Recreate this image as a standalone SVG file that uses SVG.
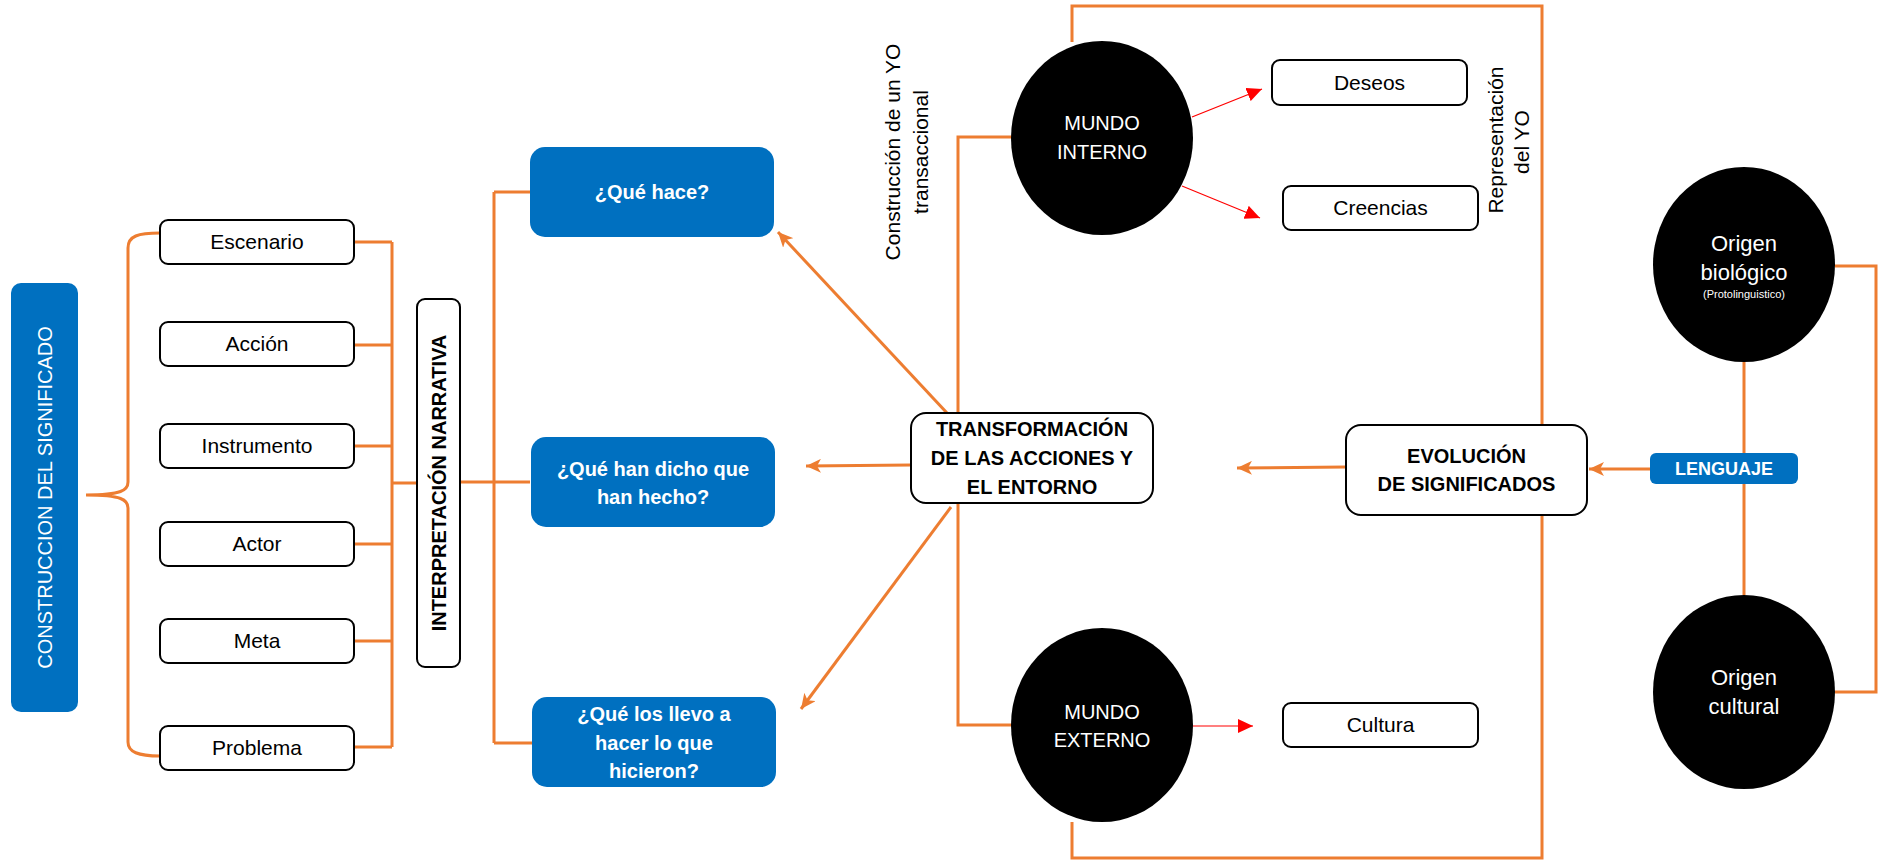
<svg xmlns="http://www.w3.org/2000/svg" width="1889" height="860" viewBox="0 0 1889 860">
<style>
text{font-family:"Liberation Sans",Arial,sans-serif;}
.box{fill:#fff;stroke:#000;stroke-width:2;}
.blue{fill:#0070C0;}
.dot{fill:#000;}
.t{font-size:21px;fill:#000;text-anchor:middle;}
.tb{font-size:20px;font-weight:bold;fill:#000;text-anchor:middle;}
.wb{font-size:20px;font-weight:bold;fill:#fff;text-anchor:middle;}
.w{font-size:20px;fill:#fff;text-anchor:middle;}
.or{fill:none;stroke:#ED7D31;stroke-width:3;}
.rd{fill:none;stroke:#FF0000;stroke-width:1.2;}
</style>
<defs>
<marker id="ao" markerUnits="userSpaceOnUse" markerWidth="16" markerHeight="14" refX="15" refY="7" orient="auto">
<path d="M0,0 L15,7 L0,14 L4,7 Z" fill="#ED7D31"/>
</marker>
<marker id="ar" markerUnits="userSpaceOnUse" markerWidth="16" markerHeight="14" refX="15" refY="7" orient="auto">
<path d="M0,0 L15,7 L0,14 Z" fill="#FF0000"/>
</marker>
</defs>
<rect width="1889" height="860" fill="#fff"/>

<g id="connectors">
<path class="or" d="M160,233 C138,233 128,236 128,248 L128,482 C128,490 122,495 86,495 C122,495 128,500 128,508 L128,742 C128,752 138,756 160,756"/>
<path class="or" d="M354,242 H392 M354,345 H392 M354,446 H392 M354,544 H392 M354,641 H392 M354,747 H392 M392,242 V747 M392,483 H417"/>
<path class="or" d="M460,482 H530 M494,192 V743 M494,192 H530 M494,743 H532"/>
<path class="or" d="M947,413 L778,232" marker-end="url(#ao)"/>
<path class="or" d="M911,465 L806,466" marker-end="url(#ao)"/>
<path class="or" d="M951,507 L801,709" marker-end="url(#ao)"/>
<path class="or" d="M1012,137 H958 V725 H1012"/>
<path class="or" d="M1072,42 V6 H1542 V858 H1072 V822"/>
<path class="or" d="M1346,467 L1237,468" marker-end="url(#ao)"/>
<path class="or" d="M1650,469 L1589,469" marker-end="url(#ao)"/>
<path class="or" d="M1744,362 V595"/>
<path class="or" d="M1835,266 H1876 V692 H1835"/>
<path class="rd" d="M1192,117 L1262,89" marker-end="url(#ar)"/>
<path class="rd" d="M1182,186 L1260,218" marker-end="url(#ar)"/>
<path class="rd" d="M1193,726 L1253,726" marker-end="url(#ar)"/>
</g>

<g id="construccion">
<rect class="blue" x="11" y="283" width="67" height="429" rx="10"/>
<text class="w" transform="rotate(-90 45 497.5)" x="45" y="497.5" dominant-baseline="central">CONSTRUCCION DEL SIGNIFICADO</text>
</g>

<g id="escenario"><rect class="box" x="160" y="220" width="194" height="44" rx="8"/><text class="t" x="257" y="249">Escenario</text></g>
<g id="accion"><rect class="box" x="160" y="322" width="194" height="44" rx="8"/><text class="t" x="257" y="351">Acción</text></g>
<g id="instrumento"><rect class="box" x="160" y="424" width="194" height="44" rx="8"/><text class="t" x="257" y="453">Instrumento</text></g>
<g id="actor"><rect class="box" x="160" y="522" width="194" height="44" rx="8"/><text class="t" x="257" y="551">Actor</text></g>
<g id="meta"><rect class="box" x="160" y="619" width="194" height="44" rx="8"/><text class="t" x="257" y="648">Meta</text></g>
<g id="problema"><rect class="box" x="160" y="726" width="194" height="44" rx="8"/><text class="t" x="257" y="755">Problema</text></g>

<g id="interpretacion">
<rect class="box" x="417" y="299" width="43" height="368" rx="8"/>
<text class="tb" transform="rotate(-90 438.5 483)" x="438.5" y="483" dominant-baseline="central">INTERPRETACIÓN NARRATIVA</text>
</g>

<g id="que-hace"><rect class="blue" x="530" y="147" width="244" height="90" rx="15"/><text class="wb" x="652" y="199">¿Qué hace?</text></g>
<g id="que-han-dicho"><rect class="blue" x="531" y="437" width="244" height="90" rx="15"/><text class="wb" x="653" y="476">¿Qué han dicho que</text><text class="wb" x="653" y="504">han hecho?</text></g>
<g id="que-los-llevo"><rect class="blue" x="532" y="697" width="244" height="90" rx="15"/><text class="wb" x="654" y="721">¿Qué los llevo a</text><text class="wb" x="654" y="750">hacer lo que</text><text class="wb" x="654" y="778">hicieron?</text></g>

<g id="transformacion">
<rect class="box" x="911" y="413" width="242" height="90" rx="15"/>
<text class="tb" x="1032" y="436">TRANSFORMACIÓN</text>
<text class="tb" x="1032" y="465">DE LAS ACCIONES Y</text>
<text class="tb" x="1032" y="494">EL ENTORNO</text>
</g>

<g id="label-transaccional">
<text class="t" transform="rotate(-90 892 152)" x="892" y="152" dominant-baseline="central">Construcción de un YO</text>
<text class="t" transform="rotate(-90 920 152)" x="920" y="152" dominant-baseline="central">transaccional</text>
</g>

<g id="mundo-interno">
<ellipse class="dot" cx="1102" cy="138" rx="91" ry="97"/>
<text class="w" x="1102" y="130">MUNDO</text>
<text class="w" x="1102" y="159">INTERNO</text>
</g>
<g id="deseos"><rect class="box" x="1272" y="60" width="195" height="45" rx="8"/><text class="t" x="1369.5" y="90">Deseos</text></g>
<g id="creencias"><rect class="box" x="1283" y="186" width="195" height="44" rx="8"/><text class="t" x="1380.5" y="215">Creencias</text></g>

<g id="label-representacion">
<text class="t" transform="rotate(-90 1495 140)" x="1495" y="140" dominant-baseline="central">Representación</text>
<text class="t" transform="rotate(-90 1521 142)" x="1521" y="142" dominant-baseline="central">del YO</text>
</g>

<g id="mundo-externo">
<ellipse class="dot" cx="1102" cy="725" rx="91" ry="97"/>
<text class="w" x="1102" y="719">MUNDO</text>
<text class="w" x="1102" y="747">EXTERNO</text>
</g>
<g id="cultura"><rect class="box" x="1283" y="703" width="195" height="44" rx="8"/><text class="t" x="1380.5" y="732">Cultura</text></g>

<g id="evolucion">
<rect class="box" x="1346" y="425" width="241" height="90" rx="15"/>
<text class="tb" x="1466.5" y="463">EVOLUCIÓN</text>
<text class="tb" x="1466.5" y="491">DE SIGNIFICADOS</text>
</g>

<g id="lenguaje">
<rect class="blue" x="1650" y="453" width="148" height="31" rx="6"/>
<text class="wb" x="1724" y="475" style="font-size:18px">LENGUAJE</text>
</g>

<g id="origen-biologico">
<ellipse class="dot" cx="1744" cy="264.5" rx="91" ry="97.5"/>
<text class="w" x="1744" y="251" style="font-size:22px">Origen</text>
<text class="w" x="1744" y="280" style="font-size:22px">biológico</text>
<text class="w" x="1744" y="298" style="font-size:11px">(Protolinguistico)</text>
</g>

<g id="origen-cultural">
<ellipse class="dot" cx="1744" cy="692" rx="91" ry="97"/>
<text class="w" x="1744" y="685" style="font-size:22px">Origen</text>
<text class="w" x="1744" y="714" style="font-size:22px">cultural</text>
</g>
</svg>
